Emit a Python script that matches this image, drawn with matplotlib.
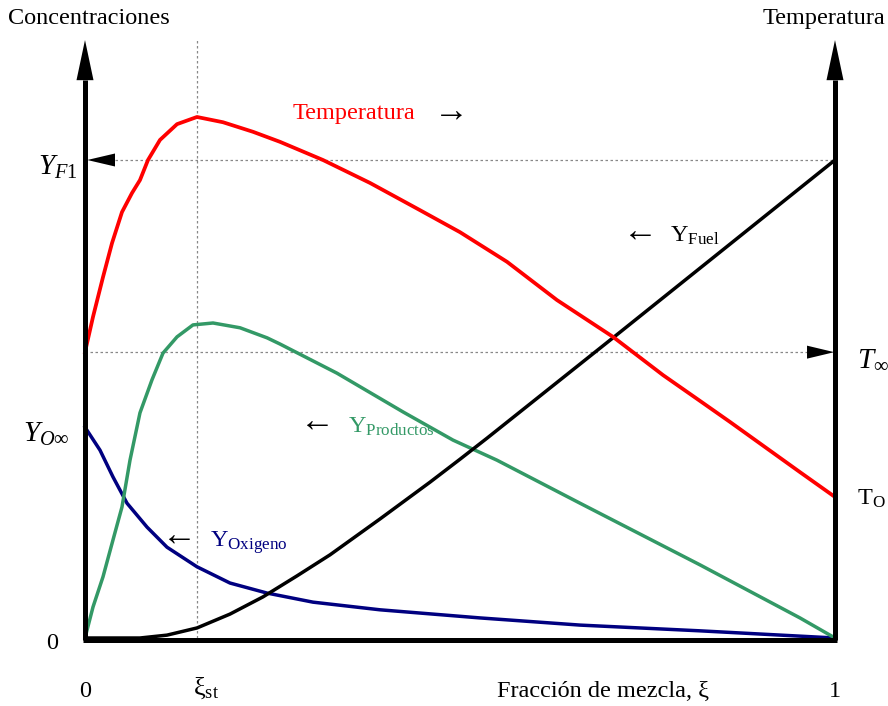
import matplotlib
matplotlib.use("Agg")
import matplotlib.pyplot as plt

plt.rcParams['font.family'] = ['Liberation Serif', 'DejaVu Serif']
plt.rcParams['mathtext.fontset'] = 'custom'
plt.rcParams['mathtext.rm'] = 'Liberation Serif'
plt.rcParams['mathtext.it'] = 'Liberation Serif:italic'
plt.rcParams['lines.solid_joinstyle'] = 'round'

#--------------------------------------#
# profiles vs mixture fraction (concentrations normalised by Y_F1)

xi_st = 0.1493
Y_F1 = 1.0
Y_Oinf = 0.441
T_inf = 0.598
T_O = 0.295

temp_xi = [0, .0107, .0240, .0360, .0493, .0627, .0733, .0840, .1000, .1227, .1493,
           .1840, .2240, .2600, .3173, .3800, .4467, .5000, .5627, .6293, .7040,
           .7707, .8200, .8600, .9533, 1.0]
temp_val = [.598, .672, .755, .826, .891, .931, .958, 1.000, 1.042, 1.075, 1.090,
            1.079, 1.059, 1.038, 1.000, .952, .895, .849, .787, .707, .630,
            .550, .496, .452, .347, .295]

prod_xi = [0, .0107, .0240, .0373, .0493, .0600, .0733, .0893, .1040, .1227, .1440,
           .1707, .2067, .2427, .2600, .3360, .4240, .4907, .5493, .6600, .8200,
           .9533, 1.0]
prod_val = [0, .065, .128, .205, .274, .372, .471, .540, .596, .630, .655,
            .659, .649, .628, .615, .554, .473, .414, .372, .282, .153,
            .042, 0]

oxy_xi = [0, .02, .0373, .056, .0827, .1093, .1493, .1933, .2427, .304, .3933,
          .5267, .66, .82, 1.0]
oxy_val = [.441, .393, .337, .282, .232, .190, .149, .115, .094, .075, .059,
           .042, .027, .015, 0]

fuel_xi = [0, .0733, .1093, .1493, .1933, .2373, .2827, .3267, .3933, .46, .50,
           .536, .704, .86, 1.0]
fuel_val = [0, 0, .006, .021, .050, .086, .130, .174, .249, .326, .374,
            .418, .628, .824, 1.0]

#--------------------------------------#
# figure

fig = plt.figure(figsize=(8.88, 7.06), dpi=100)
ax = fig.add_axes([0, 0, 1, 1])
ax.set_xlim(-0.11333, 1.07067)
ax.set_ylim(-0.14226, 1.33473)
ax.axis('off')

px = 1 / 750.0   # one pixel along xi
py = 1 / 478.0   # one pixel along y

top_tip = 1.251
top_base = 1.167
dot = dict(color='#888888', lw=0.9, dashes=(2, 2), zorder=1)

# guide lines
ax.plot([xi_st, xi_st], [0, top_tip], **dot)
ax.plot([0.04, 1.0], [Y_F1, Y_F1], **dot)
ax.plot([0, 0.9627], [T_inf, T_inf], **dot)

# axes with arrow heads
ax.plot([0, 0], [-0.005, top_base], color='k', lw=3.6, solid_capstyle='butt', zorder=5)
ax.plot([1, 1], [-0.005, top_base], color='k', lw=3.6, solid_capstyle='butt', zorder=5)
ax.plot([-2 * px, 1 + 2 * px], [-0.005, -0.005], color='k', lw=3.6, solid_capstyle='butt', zorder=5)
for x0 in (0, 1):
    ax.fill([x0 - 8.5 * px, x0 + 8.5 * px, x0], [top_base, top_base, top_tip],
            color='k', lw=0, zorder=5)
ax.fill([0.04, 0.04, 0.003], [Y_F1 - 6.5 * py, Y_F1 + 6.5 * py, Y_F1], color='k', lw=0, zorder=5)
ax.fill([0.9627, 0.9627, 0.999], [T_inf - 6.5 * py, T_inf + 6.5 * py, T_inf], color='k', lw=0, zorder=5)

# curves
ax.plot(oxy_xi, oxy_val, color='#000080', lw=2.5, zorder=2)
ax.plot(prod_xi, prod_val, color='#339966', lw=2.5, zorder=3)
ax.plot(fuel_xi, fuel_val, color='k', lw=2.5, zorder=4)
ax.plot(temp_xi, temp_val, color='#ff0000', lw=2.7, zorder=4)

#--------------------------------------#
# labels

fs = 17.5
afs = 25   # arrow glyphs
ax.text(-0.1027, 1.297, 'Concentraciones', fontsize=fs, ha='left', va='center')
ax.text(1.0667, 1.297, 'Temperatura', fontsize=fs, ha='right', va='center')

ax.text(0.2773, 1.098, 'Temperatura', fontsize=fs, color='#ff0000', ha='left', va='center')
ax.text(0.488, 1.098, '\u2192', fontsize=afs, ha='center', va='center')

ax.text(-0.0093, 0.9686, r'$Y_{F1}$', fontsize=21, ha='right', va='baseline')
ax.text(-0.02, 0.41, r'$Y_{O\infty}$', fontsize=21, ha='right', va='baseline')
ax.text(1.0293, 0.567, r'$T_{\infty}$', fontsize=21, ha='left', va='baseline')
ax.text(1.0293, 0.278, r'$\mathrm{T}_{\mathrm{O}}$', fontsize=fs, ha='left', va='baseline')

ax.text(-0.044, -0.023, '0', fontsize=fs, ha='center', va='baseline')
ax.text(0, -0.123, '0', fontsize=fs, ha='center', va='baseline')
ax.text(1.0, -0.123, '1', fontsize=fs, ha='center', va='baseline')
ax.text(0.144, -0.119, r'$\mathrm{\xi}_{\mathrm{st}}$', fontsize=19, ha='left', va='baseline')
ax.text(0.5493, -0.123, 'Fracción de mezcla, ξ', fontsize=fs, ha='left', va='baseline')

ax.text(0.74, 0.847, '\u2190', fontsize=afs, ha='center', va='center')
ax.text(0.78, 0.8285, r'$\mathrm{Y}_{\mathrm{Fuel}}$', fontsize=fs, ha='left', va='baseline')
ax.text(0.3093, 0.4498, '\u2190', fontsize=afs, ha='center', va='center')
ax.text(0.3507, 0.4289, r'$\mathrm{Y}_{\mathrm{Productos}}$', fontsize=fs, color='#339966',
        ha='left', va='baseline')
ax.text(0.126, 0.2113, '\u2190', fontsize=afs, ha='center', va='center')
ax.text(0.1667, 0.190, r'$\mathrm{Y}_{\mathrm{Oxigeno}}$', fontsize=fs, color='#000080',
        ha='left', va='baseline')

fig.savefig('out.png', dpi=100, facecolor='white')
